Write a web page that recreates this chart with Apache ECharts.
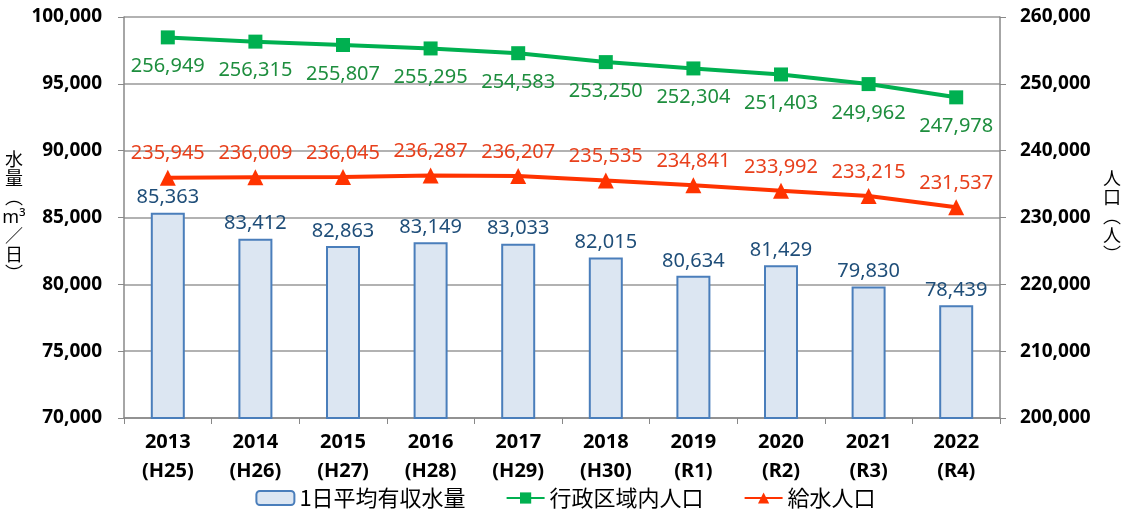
<!DOCTYPE html>
<html>
<head>
<meta charset="utf-8">
<script src="https://cdn.jsdelivr.net/npm/echarts@6/dist/echarts.min.js"></script>
<style>
html, body { margin: 0; padding: 0; background: #fff; }
#chart { width: 1131px; height: 517px; }
</style>
</head>
<body>
<div id="chart"></div>
<script>
// 年度（西暦＋和暦）
const years = ['2013\n(H25)', '2014\n(H26)', '2015\n(H27)', '2016\n(H28)', '2017\n(H29)',
  '2018\n(H30)', '2019\n(R1)', '2020\n(R2)', '2021\n(R3)', '2022\n(R4)']
// 1日平均有収水量 (m3/日)
const waterVolume = [85363, 83412, 82863, 83149, 83033, 82015, 80634, 81429, 79830, 78439]
// 行政区域内人口
const adminPop = [256949, 256315, 255807, 255295, 254583, 253250, 252304, 251403, 249962, 247978]
// 給水人口
const servedPop = [235945, 236009, 236045, 236287, 236207, 235535, 234841, 233992, 233215, 231537]

const fontFamily = "'Noto Sans', 'Noto Sans CJK JP', sans-serif"
const fmt = v => v.toLocaleString('en-US')

let myChart = echarts.init(document.getElementById('chart'))
let option = {
  animation: false,
  textStyle: { fontFamily: fontFamily },
  grid: { left: 124, right: 131, top: 17, bottom: 99, containLabel: false, outerBoundsMode: 'none' },
  legend: {
    bottom: 3,
    left: 'center',
    itemGap: 40,
    itemWidth: 38,
    itemHeight: 14,
    textStyle: { fontSize: 22, color: '#000', fontFamily: "'Noto Sans CJK JP', sans-serif" },
    data: ['1日平均有収水量', '行政区域内人口', '給水人口']
  },
  xAxis: {
    type: 'category',
    data: years,
    axisLine: { lineStyle: { color: '#888', width: 1.5 } },
    axisTick: { show: true, length: 6, lineStyle: { color: '#888' } },
    axisLabel: {
      color: '#000', fontSize: 20, fontWeight: 'bold', lineHeight: 29, margin: 10
    }
  },
  yAxis: [{
    type: 'value',
    min: 70000,
    max: 100000,
    interval: 5000,
    name: '水\n量\n︵\nm³\n／\n日\n︶',
    nameLocation: 'middle',
    nameRotate: 0,
    nameGap: 96,
    nameTextStyle: { fontSize: 18, color: '#000', lineHeight: 19, align: 'center', width: 20 },
    axisLine: { show: true, lineStyle: { color: '#888', width: 1.5 } },
    axisTick: { show: true, length: 6, lineStyle: { color: '#888' } },
    axisLabel: { color: '#000', fontSize: 19, fontWeight: 'bold', margin: 22, formatter: fmt },
    splitLine: { lineStyle: { color: '#999', width: 1.5 } }
  }, {
    type: 'value',
    min: 200000,
    max: 260000,
    interval: 10000,
    name: '人\n口\n︵\n人\n︶',
    nameLocation: 'middle',
    nameRotate: 0,
    nameGap: 112,
    nameTextStyle: { fontSize: 18, color: '#000', lineHeight: 19, align: 'center', width: 20 },
    axisLine: { show: true, lineStyle: { color: '#888', width: 1.5 } },
    axisTick: { show: true, length: 6, lineStyle: { color: '#888' } },
    axisLabel: { color: '#000', fontSize: 19, fontWeight: 'bold', margin: 20, formatter: fmt },
    splitLine: { show: false }
  }],
  series: [{
    name: '1日平均有収水量',
    type: 'bar',
    yAxisIndex: 0,
    barWidth: 34,
    data: waterVolume,
    itemStyle: { color: '#DCE6F2', borderColor: '#4A7EBB', borderWidth: 2 },
    label: {
      show: true, position: 'top', distance: 5,
      color: '#1F4E79', fontSize: 20,
      formatter: p => fmt(p.value)
    }
  }, {
    name: '行政区域内人口',
    type: 'line',
    yAxisIndex: 1,
    data: adminPop,
    symbol: 'rect',
    symbolSize: 14,
    lineStyle: { color: '#00B050', width: 4 },
    itemStyle: { color: '#00B050' },
    label: {
      show: true, position: 'bottom', distance: 12,
      color: '#1E8E3E', fontSize: 20,
      formatter: p => fmt(p.value)
    }
  }, {
    name: '給水人口',
    type: 'line',
    yAxisIndex: 1,
    data: servedPop,
    symbol: 'triangle',
    symbolSize: 16,
    lineStyle: { color: '#FF3300', width: 4 },
    itemStyle: { color: '#FF3300' },
    label: {
      show: true, position: 'top', distance: 6,
      color: '#E8401C', fontSize: 20,
      formatter: p => fmt(p.value)
    }
  }]
}
myChart.setOption(option)
</script>
</body>
</html>
